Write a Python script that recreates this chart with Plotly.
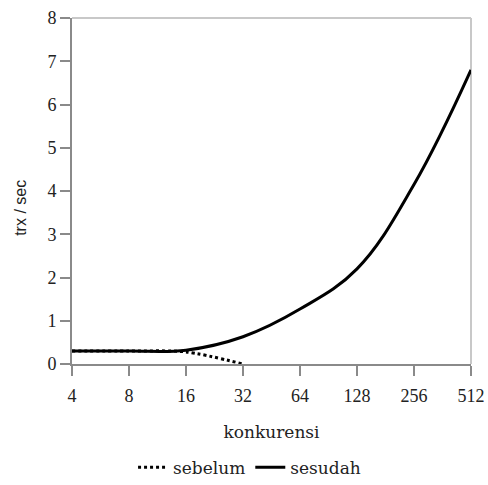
import plotly.graph_objects as go

categories = ["4", "8", "16", "32", "64", "128", "256", "512"]
sebelum_x = ["4", "8", "16", "32"]
sebelum = [0.30, 0.30, 0.28, 0.0]
sesudah = [0.30, 0.30, 0.32, 0.63, 1.27, 2.2, 4.15, 6.8]
yticks = [0, 1, 2, 3, 4, 5, 6, 7, 8]

TICKFONT = "Liberation Serif"
WIDEFONT = "DejaVu Serif"
SANS = "Liberation Sans"

fig = go.Figure()
fig.add_trace(go.Scatter(
    x=sebelum_x, y=sebelum, name="sebelum", mode="lines",
    line=dict(color="black", width=3, dash="dot", shape="spline", smoothing=0.8),
))
fig.add_trace(go.Scatter(
    x=categories, y=sesudah, name="sesudah", mode="lines",
    line=dict(color="black", width=3, shape="spline", smoothing=1.1),
))

fig.update_layout(
    width=488, height=485,
    margin=dict(l=72, r=17, t=18, b=121, autoexpand=False),
    paper_bgcolor="white", plot_bgcolor="white",
    font=dict(family=TICKFONT, size=17, color="#222"),
    showlegend=True,
    legend=dict(orientation="h", x=0.445, xanchor="center", y=-0.30, yanchor="middle",
                font=dict(family=WIDEFONT, size=17, color="#222"), itemwidth=30,
                tracegroupgap=0),
    xaxis=dict(
        type="category", categoryorder="array", categoryarray=categories,
        range=[0, 7], showgrid=False, zeroline=False, automargin=False,
        showline=True, linecolor="#8a8a8a", linewidth=2,
        ticks="outside", ticklen=10, tickwidth=2, tickcolor="#8a8a8a",
        ticklabelstandoff=4,
        tickfont=dict(family=TICKFONT, size=18, color="#222"),
        title=dict(text="konkurensi", font=dict(family=WIDEFONT, size=17, color="#222"),
                   standoff=22),
    ),
    yaxis=dict(
        range=[0, 8], tickvals=yticks, showgrid=False, zeroline=False, automargin=False,
        showline=True, linecolor="#8a8a8a", linewidth=2,
        ticks="outside", ticklen=10, tickwidth=2, tickcolor="#8a8a8a",
        tickfont=dict(family=TICKFONT, size=18, color="#222"),
    ),
    annotations=[
        dict(text="trx / sec", textangle=-90, xref="paper", yref="paper",
             x=-0.129, y=0.45, xanchor="center", yanchor="middle", showarrow=False,
             font=dict(family=SANS, size=16, color="#222")),
    ],
    shapes=[
        dict(type="line", xref="paper", yref="paper", x0=0, x1=1, y0=1, y1=1,
             line=dict(color="#c8c8c8", width=2), layer="below"),
        dict(type="line", xref="paper", yref="paper", x0=1, x1=1, y0=0, y1=1,
             line=dict(color="#c8c8c8", width=2), layer="below"),
    ],
)

fig.write_html("out.html")
